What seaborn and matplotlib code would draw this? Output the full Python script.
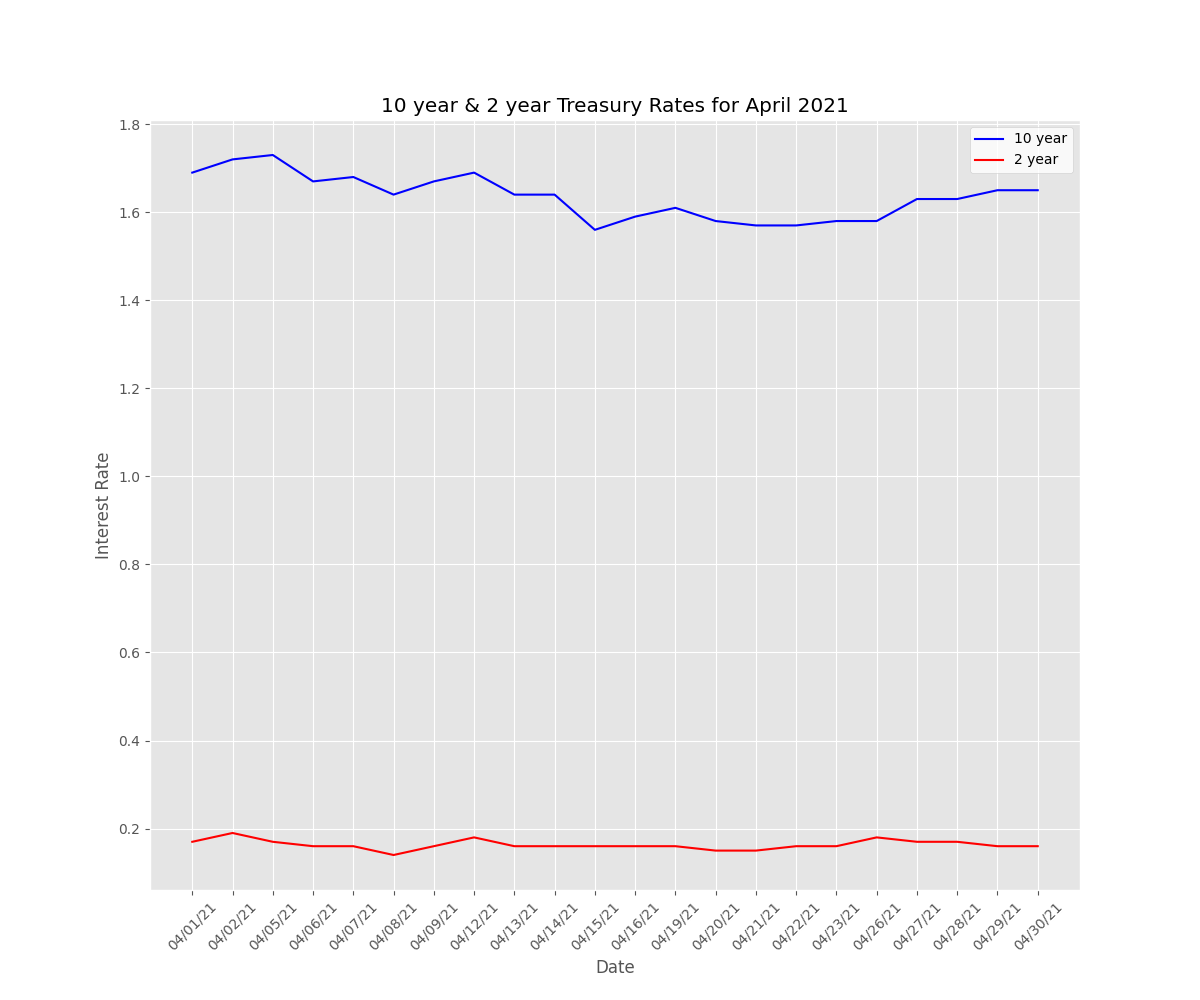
import matplotlib
matplotlib.use("Agg")
import matplotlib.pyplot as plt
import seaborn as sns

# ---------------- DATA ----------------
dates = ["04/01/21", "04/02/21", "04/05/21", "04/06/21", "04/07/21", "04/08/21",
         "04/09/21", "04/12/21", "04/13/21", "04/14/21", "04/15/21", "04/16/21",
         "04/19/21", "04/20/21", "04/21/21", "04/22/21", "04/23/21", "04/26/21",
         "04/27/21", "04/28/21", "04/29/21", "04/30/21"]
ten_year = [1.69, 1.72, 1.73, 1.67, 1.68, 1.64, 1.67, 1.69, 1.64, 1.64, 1.56,
            1.59, 1.61, 1.58, 1.57, 1.57, 1.58, 1.58, 1.63, 1.63, 1.65, 1.65]
two_year = [0.17, 0.19, 0.17, 0.16, 0.16, 0.14, 0.16, 0.18, 0.16, 0.16, 0.16,
            0.16, 0.16, 0.15, 0.15, 0.16, 0.16, 0.18, 0.17, 0.17, 0.16, 0.16]

# ---------------- PLOT ----------------
plt.style.use("ggplot")
fig, ax = plt.subplots(figsize=(12, 10), dpi=100)

sns.lineplot(x=dates, y=ten_year, color="blue", label="10 year", ax=ax)
sns.lineplot(x=dates, y=two_year, color="red", label="2 year", ax=ax)

ax.set_title("10 year & 2 year Treasury Rates for April 2021")
ax.set_xlabel("Date")
ax.set_ylabel("Interest Rate")
plt.xticks(rotation=45)
ax.legend(loc="upper right", facecolor="white")

fig.savefig("out.png")
